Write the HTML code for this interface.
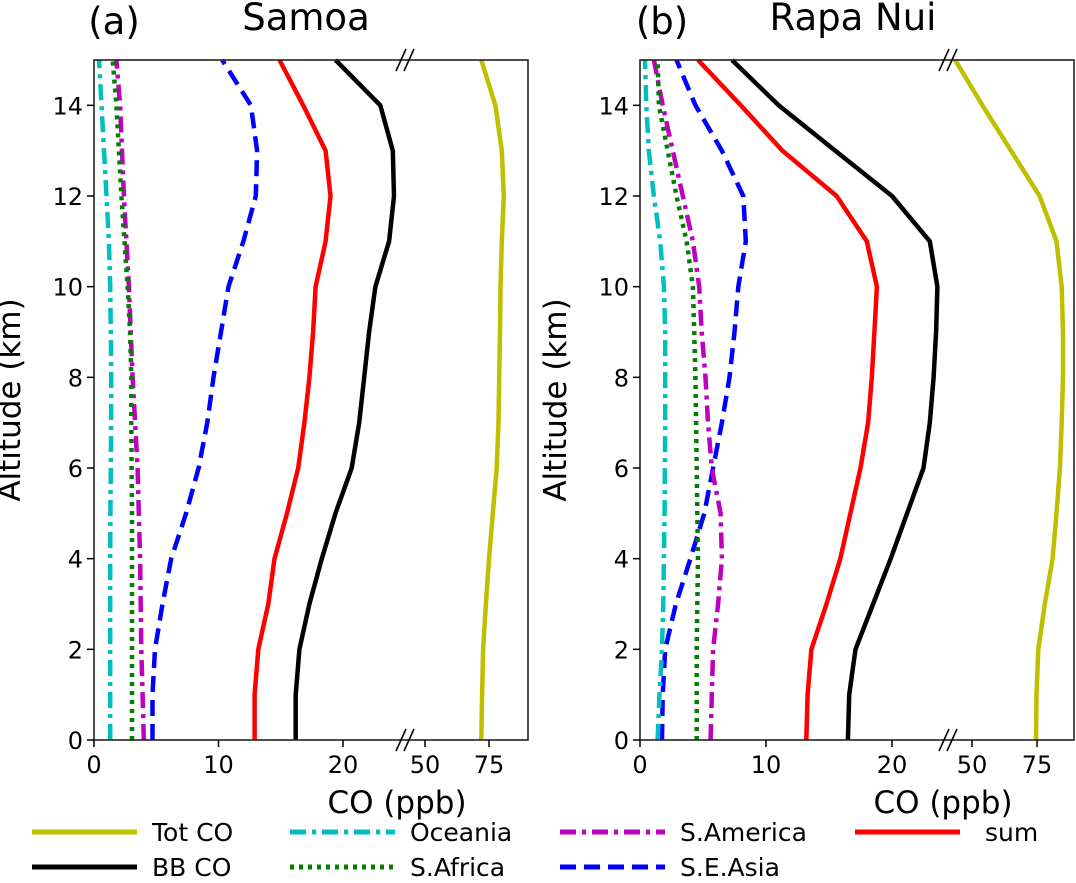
<!DOCTYPE html>
<html><head><meta charset="utf-8"><style>
body{margin:0;background:#fff}
svg{font-family:"DejaVu Sans","Liberation Sans",sans-serif}
</style></head><body>
<svg id="c" width="1076" height="878" xmlns="http://www.w3.org/2000/svg"></svg>
<script>
const altitudes=[0,1,2,3,4,5,6,7,8,9,10,11,12,13,14,15];
// Panel (a) Samoa, ppb at altitudes
const samoaTot=[72,72.3,72.7,73.8,75,76.5,78,78.7,79,79.3,79.5,80,80.8,80,77.5,72];
const samoaBB=[16.2,16.2,16.5,17.3,18.3,19.4,20.7,21.3,21.7,22.1,22.6,23.7,24.1,24.0,23.0,19.4];
const samoaSum=[12.9,12.9,13.2,14,14.5,15.5,16.4,16.9,17.3,17.6,17.8,18.6,19,18.6,16.8,14.9];
const samoaSEA=[4.7,4.7,4.9,5.5,6.2,7.4,8.4,9.1,9.6,10.2,10.8,12,13,13.1,12.6,10.3];
const samoaSAm=[4,3.9,3.8,3.75,3.7,3.6,3.5,3.3,3.1,2.95,2.8,2.6,2.4,2.25,2.1,1.8];
const samoaSAf=[3.05,3.05,3.05,3.05,3.05,3.05,3.02,3.0,3.0,2.9,2.7,2.45,2.2,2.0,1.8,1.5];
const samoaOce=[1.3,1.3,1.3,1.3,1.3,1.32,1.35,1.37,1.38,1.35,1.3,1.2,1.0,0.8,0.6,0.4];
// Panel (b) Rapa Nui
const rapaTot=[74.6,74.8,75.5,78,81,82.5,83.8,84.5,85,85,84.5,82.5,76,65,54,43.5];
const rapaBB=[16.5,16.6,17.1,18.5,19.9,21.2,22.5,23,23.3,23.5,23.6,23,20,15.5,11,7.3];
const rapaSum=[13.2,13.3,13.6,14.8,15.9,16.7,17.5,18.1,18.4,18.6,18.8,18,15.6,11.3,8,4.6];
const rapaSEA=[1.75,1.8,2.0,2.85,4,5.1,5.8,6.5,7.1,7.5,7.8,8.4,8.2,6.5,4.4,2.9];
const rapaSAm=[5.6,5.7,5.8,6.2,6.5,6.4,5.7,5.4,5.2,4.9,4.7,4.2,3.4,2.6,1.8,1.1];
const rapaSAf=[4.5,4.5,4.5,4.55,4.6,4.55,4.5,4.45,4.4,4.3,4.2,3.7,2.9,2.2,1.5,1.4];
const rapaOce=[1.4,1.55,1.75,1.85,1.9,1.95,1.98,2.0,2.0,2.0,1.9,1.6,1.1,0.7,0.5,0.4];
const leftTicks=[0,10,20], rightTicks=[50,75], yTicks=[0,2,4,6,8,10,12,14];

const svg=document.getElementById('c');const NS='http://www.w3.org/2000/svg';
function mk(t,a,txt,name){const e=document.createElementNS(NS,t);for(const k in a)e.setAttribute(k,a[k]);if(txt!=null)e.textContent=txt;


svg.appendChild(e);return e;}
const panels=[
 {x0:94,x1:528,lk:12.45,brk:402,r50:425,rk:2.56,title:'Samoa',lab:'(a)',tx:306,labx:114,
  d:[samoaTot,samoaBB,samoaSum,samoaSEA,samoaSAm,samoaSAf,samoaOce]},
 {x0:640,x1:1074,lk:12.6,brk:945,r50:972,rk:2.6,title:'Rapa Nui',lab:'(b)',tx:853,labx:662,
  d:[rapaTot,rapaBB,rapaSum,rapaSEA,rapaSAm,rapaSAf,rapaOce]}];
const styles=[
 {c:'#bfbf00',da:'',n:'tot-co'},{c:'#000',da:'',n:'bb-co'},{c:'#ff0000',da:'',n:'sum'},
 {c:'#0000ff',da:'16,8',n:'se-asia'},{c:'#bf00bf',da:'16,6,4,6',n:'s-america'},
 {c:'#007f00',da:'4,5',n:'s-africa'},{c:'#00bfbf',da:'16,6,4,6',n:'oceania'}];
const Y0=740,Y1=60;const ys=v=>Y0-(v/15)*(Y0-Y1);
panels.forEach((p,pi)=>{
 const xs=v=>v<35?p.x0+v*p.lk:p.r50+(v-50)*p.rk;
 const pre=pi?'b-':'a-';
 p.d.forEach((arr,si)=>{const s=styles[si];
  const pts=arr.map((v,i)=>xs(v).toFixed(1)+','+ys(altitudes[i]).toFixed(1)).join(' ');
  mk('polyline',{points:pts,fill:'none',stroke:s.c,'stroke-width':4.5,'stroke-dasharray':s.da,'stroke-linejoin':'round'},null,pre+s.n+'-line');});
 mk('rect',{x:p.x0,y:Y1,width:p.x1-p.x0,height:Y0-Y1,fill:'none',stroke:'#222','stroke-width':1.6},null,pre+'axes-frame');
 [Y1,Y0].forEach(yy=>{
  mk('line',{x1:p.brk-6,y1:yy+11,x2:p.brk+4,y2:yy-11,stroke:'#000','stroke-width':1.6},null,pre+'break-mark');
  mk('line',{x1:p.brk+2,y1:yy+11,x2:p.brk+12,y2:yy-11,stroke:'#000','stroke-width':1.6},null,pre+'break-mark');});
 leftTicks.concat(rightTicks).forEach(t=>{const x=xs(t);
  mk('line',{x1:x,y1:Y0,x2:x,y2:Y0+7,stroke:'#000','stroke-width':1.5},null,pre+'x-tick');
  mk('text',{x:x,y:Y0+33,'font-size':24,'text-anchor':'middle'},String(t),pre+'x-tick-label');});
 yTicks.forEach(t=>{const y=ys(t);
  mk('line',{x1:p.x0-7,y1:y,x2:p.x0,y2:y,stroke:'#000','stroke-width':1.5},null,pre+'y-tick');
  mk('text',{x:p.x0-11,y:y+9,'font-size':24,'text-anchor':'end'},String(t),pre+'y-tick-label');});
 mk('text',{x:p.labx,y:34,'font-size':37,'text-anchor':'middle'},p.lab,pre+'panel-label');
 mk('text',{x:p.tx,y:30,'font-size':37,'text-anchor':'middle'},p.title,pre+'panel-title');
 mk('text',{x:p.x0+303,y:813,'font-size':31,'text-anchor':'middle'},'CO (ppb)',pre+'x-axis-title');
 const ax=p.x0-74;
 mk('text',{x:ax,y:400,'font-size':31,'text-anchor':'middle',transform:`rotate(-90 ${ax} 400)`},'Altitude (km)',pre+'y-axis-title');
});
const leg=[[0,'Tot CO',32,832],[6,'Oceania',290,832],[4,'S.America',560,832],[2,'sum',855,832],
 [1,'BB CO',32,867],[5,'S.Africa',290,867],[3,'S.E.Asia',560,867]];
leg.forEach(l=>{const s=styles[l[0]];
 mk('line',{x1:l[2],y1:l[3],x2:l[2]+105,y2:l[3],stroke:s.c,'stroke-width':5,'stroke-dasharray':s.da},null,'legend-'+s.n+'-swatch');
 mk('text',{x:l[2]+120+(l[0]==2?10:0),y:l[3]+9,'font-size':25},l[1],'legend-'+s.n+'-label');});
</script>
</body></html>
